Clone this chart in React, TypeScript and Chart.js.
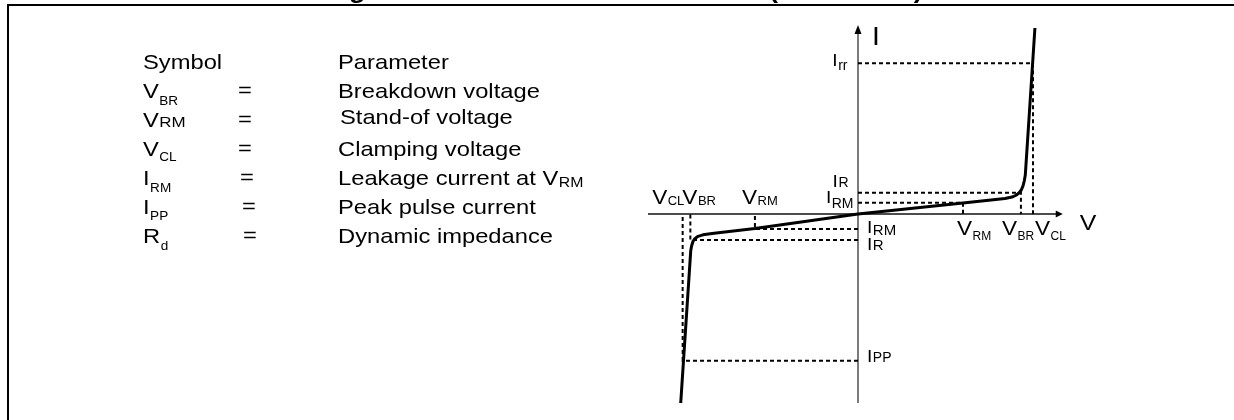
import React, { useEffect, useRef } from 'react';
import { Chart, registerables } from 'chart.js';

Chart.register(...registerables);

// ---------- text content ----------
const TITLE = 'Figure 1. Electrical characteristics (definitions)';
const TABLE_HEADER = ['Symbol', 'Parameter'];
const TABLE_SYMBOLS = ['V', 'V', 'V', 'I', 'I', 'R'];
const TABLE_SYMBOL_SUBS = ['BR', 'RM', 'CL', 'RM', 'PP', 'd'];
const TABLE_PARAMS = ['Breakdown voltage', 'Stand-of voltage', 'Clamping voltage', 'Leakage current at V', 'Peak pulse current', 'Dynamic impedance'];
const TABLE_PARAM_SUBS = ['', '', '', 'RM', '', ''];

// ---------- characteristic values (arbitrary units) ----------
const V_RM_POS = 6.0;
const V_BR_POS = 9.31;
const V_CL_POS = 10.0;
const I_RM_POS = 0.75;
const I_R_POS = 1.42;
const I_RR = 10.05;

const V_RM_NEG = -5.89;
const V_BR_NEG = -9.58;
const V_CL_NEG = -10.02;
const I_RM_NEG = -1.0;
const I_R_NEG = -1.73;
const I_PP = -9.78;

// I-V curve of the bidirectional device
const CURVE_V = [-10.13, -9.56, -9.51, -9.43, -9.31, -9.14, -8.86, -8.34, -5.89, 0, 6.0, 8.4, 8.8, 9.03, 9.2, 9.33, 9.43, 9.5, 9.56, 10.11];
const CURVE_I = [-12.6, -2.47, -2.13, -1.83, -1.63, -1.49, -1.39, -1.3, -0.97, 0, 0.73, 1.03, 1.13, 1.25, 1.4, 1.6, 1.87, 2.2, 2.6, 12.4];

// axis extents
const X_MIN = -12;
const X_MAX = 12;
const Y_MIN = -12.6;
const Y_MAX = 12.6;
const X_AXIS_END = 11.7;

const FONT = '"Liberation Sans", Arial, Helvetica, sans-serif';
const SX = 1.13; // horizontal stretch of the original artwork

function drawText(ctx: CanvasRenderingContext2D, s: string, x: number, y: number, size: number, bold = false, sx = SX): number {
  ctx.save();
  ctx.font = `${bold ? 'bold ' : ''}${size}px ${FONT}`;
  ctx.textBaseline = 'alphabetic';
  ctx.textAlign = 'left';
  const w = ctx.measureText(s).width * sx;
  ctx.translate(x, y);
  ctx.scale(sx, 1);
  ctx.fillText(s, 0, 0);
  ctx.restore();
  return w;
}

function measure(ctx: CanvasRenderingContext2D, s: string, size: number, sx = SX): number {
  ctx.save();
  ctx.font = `${size}px ${FONT}`;
  const w = ctx.measureText(s).width * sx;
  ctx.restore();
  return w;
}

function drawSym(
  ctx: CanvasRenderingContext2D,
  x: number,
  y: number,
  main: string,
  sub: string,
  mainSize: number,
  subSize: number,
  subDy: number,
  align: 'left' | 'right' = 'left',
  subSx = 1
) {
  const wm = measure(ctx, main, mainSize);
  const ws = measure(ctx, sub, subSize, subSx);
  let x0 = x;
  if (align === 'right') x0 = x - wm - ws;
  drawText(ctx, main, x0, y, mainSize);
  drawText(ctx, sub, x0 + wm + 0.5, y + subDy, subSize, false, subSx);
}

const decorPlugin = {
  id: 'decor',
  beforeDatasetsDraw(chart: any) {
    const ctx: CanvasRenderingContext2D = chart.ctx;
    const xs = chart.scales.x;
    const ys = chart.scales.y;
    const X = (v: number) => xs.getPixelForValue(v);
    const Y = (v: number) => ys.getPixelForValue(v);
    ctx.save();
    // horizontal axis
    const y0 = Y(0);
    const xTip = X(X_AXIS_END);
    ctx.strokeStyle = '#111';
    ctx.lineWidth = 1.5;
    ctx.beginPath();
    ctx.moveTo(X(X_MIN), y0);
    ctx.lineTo(xTip - 5, y0);
    ctx.stroke();
    ctx.fillStyle = '#000';
    ctx.beginPath();
    ctx.moveTo(xTip, y0);
    ctx.lineTo(xTip - 7, y0 - 3.5);
    ctx.lineTo(xTip - 7, y0 + 3.5);
    ctx.closePath();
    ctx.fill();
    // vertical axis
    const x0 = X(0);
    const yTip = Y(Y_MAX);
    ctx.strokeStyle = '#5a5a5a';
    ctx.lineWidth = 1.6;
    ctx.beginPath();
    ctx.moveTo(x0, Y(Y_MIN));
    ctx.lineTo(x0, yTip + 6);
    ctx.stroke();
    ctx.fillStyle = '#000';
    ctx.beginPath();
    ctx.moveTo(x0, yTip);
    ctx.lineTo(x0 - 3.5, yTip + 9);
    ctx.lineTo(x0 + 3.5, yTip + 9);
    ctx.closePath();
    ctx.fill();
    ctx.restore();
  },
  afterDraw(chart: any) {
    const ctx: CanvasRenderingContext2D = chart.ctx;
    const xs = chart.scales.x;
    const ys = chart.scales.y;
    const X = (v: number) => xs.getPixelForValue(v);
    const Y = (v: number) => ys.getPixelForValue(v);
    ctx.save();
    ctx.fillStyle = '#000';

    // frame
    ctx.fillRect(7, 4, 1227, 2);
    ctx.fillRect(7, 4, 2, 416);

    // title (mostly cut off at the top edge)
    drawText(ctx, TITLE, 325, -2.5, 23.8, true);

    // ---- table ----
    drawText(ctx, TABLE_HEADER[0], 143, 69, 21);
    drawText(ctx, TABLE_HEADER[1], 338, 69, 21);
    const rowY = [98, 127, 156, 185, 214, 243];
    const paramDy = [0, -3, 0, 0, 0, 0];
    const paramX = [338, 340, 338, 338, 338, 338];
    const eqX = [238, 238, 238, 240, 242, 243];
    const subSizes = [12, 15, 12, 12, 12, 12];
    const subDys = [7, 0, 5, 7, 6, 7];
    for (let i = 0; i < TABLE_SYMBOLS.length; i++) {
      const y = rowY[i];
      drawSym(ctx, 143, y, TABLE_SYMBOLS[i], TABLE_SYMBOL_SUBS[i], 21, subSizes[i], subDys[i], 'left', SX);
      drawText(ctx, '=', eqX[i], y - 1, 21);
      const w = drawText(ctx, TABLE_PARAMS[i], paramX[i], y + paramDy[i], 21);
      if (TABLE_PARAM_SUBS[i]) drawText(ctx, TABLE_PARAM_SUBS[i], paramX[i] + w + 0.5, y + 2, 14);
    }

    // ---- axis names ----
    drawText(ctx, 'I', X(0) + 14, Y(Y_MAX) + 20, 25);
    drawText(ctx, 'V', X(X_AXIS_END) + 17, Y(0) + 16, 22);

    // ---- current labels (positive side, left of axis) ----
    drawSym(ctx, X(0) - 11, Y(I_RR) + 2.5, 'I', 'rr', 17, 14, 4, 'right');
    drawSym(ctx, X(0) - 10, Y(I_R_POS) - 6, 'I', 'R', 17, 14, 0, 'right');
    drawSym(ctx, X(0) - 5, Y(I_RM_POS) + 0.5, 'I', 'RM', 17, 14, 4.5, 'right');

    // ---- current labels (negative side, right of axis) ----
    drawSym(ctx, X(0) + 9, Y(I_RM_NEG) + 4, 'I', 'RM', 17, 15, 2);
    drawSym(ctx, X(0) + 9, Y(I_R_NEG) + 10, 'I', 'R', 17, 15, 0);
    drawSym(ctx, X(0) + 9, Y(I_PP) + 1.5, 'I', 'PP', 17, 14, 0);

    // ---- voltage labels (negative side, above axis) ----
    const yn = Y(0) - 10;
    drawSym(ctx, X(V_CL_NEG) - 30.5, yn, 'V', 'CL', 20, 13, 1);
    drawSym(ctx, X(V_BR_NEG) - 8, yn, 'V', 'BR', 20, 13, 1);
    drawSym(ctx, X(V_RM_NEG) - 13, yn, 'V', 'RM', 20, 13, 1);

    // ---- voltage labels (positive side, below axis) ----
    const yp = Y(0) + 21;
    drawSym(ctx, X(V_RM_POS) - 6, yp, 'V', 'RM', 20, 12, 5);
    drawSym(ctx, X(V_BR_POS) - 19, yp, 'V', 'BR', 20, 12, 5);
    drawSym(ctx, X(V_CL_POS) + 2, yp, 'V', 'CL', 20, 12, 5);

    ctx.restore();
  },
};

function guide(points: { x: number; y: number }[]) {
  return {
    data: points,
    showLine: true,
    borderColor: '#000',
    borderWidth: 2,
    borderDash: [4, 3],
    pointRadius: 0,
    fill: false,
    tension: 0,
    clip: false as any,
  };
}

export default function App() {
  const ref = useRef<HTMLCanvasElement | null>(null);

  useEffect(() => {
    document.body.style.margin = '0';
    const canvas = ref.current;
    if (!canvas) return;
    const curve = CURVE_V.map((v, i) => ({ x: v, y: CURVE_I[i] }));
    const chart = new Chart(canvas, {
      type: 'scatter',
      data: {
        datasets: [
          guide([{ x: 0, y: I_RR }, { x: V_CL_POS, y: I_RR }, { x: V_CL_POS, y: 0 }]),
          guide([{ x: 0, y: I_R_POS }, { x: V_BR_POS, y: I_R_POS }, { x: V_BR_POS, y: 0 }]),
          guide([{ x: 0, y: I_RM_POS }, { x: V_RM_POS, y: I_RM_POS }, { x: V_RM_POS, y: 0 }]),
          guide([{ x: 0, y: I_PP }, { x: V_CL_NEG, y: I_PP }, { x: V_CL_NEG, y: 0 }]),
          guide([{ x: 0, y: I_R_NEG }, { x: V_BR_NEG, y: I_R_NEG }, { x: V_BR_NEG, y: 0 }]),
          guide([{ x: 0, y: I_RM_NEG }, { x: V_RM_NEG, y: I_RM_NEG }, { x: V_RM_NEG, y: 0 }]),
          {
            data: curve,
            showLine: true,
            borderColor: '#000',
            borderWidth: 3,
            pointRadius: 0,
            fill: false,
            tension: 0,
            borderJoinStyle: 'round',
            borderCapStyle: 'butt',
            clip: false as any,
          } as any,
        ],
      },
      options: {
        animation: false,
        responsive: false,
        devicePixelRatio: 1,
        layout: { padding: { left: 648, right: 166, top: 25, bottom: 17 } },
        plugins: { legend: { display: false }, tooltip: { enabled: false }, title: { display: false } },
        events: [],
        scales: {
          x: { type: 'linear', min: X_MIN, max: X_MAX, display: false },
          y: { type: 'linear', min: Y_MIN, max: Y_MAX, display: false },
        },
      },
      plugins: [decorPlugin],
    } as any);
    return () => chart.destroy();
  }, []);

  return (
    <div style={{ position: 'absolute', left: 0, top: 0, width: 1234, height: 420, background: '#fff' }}>
      <canvas ref={ref} width={1234} height={420} style={{ display: 'block' }} />
    </div>
  );
}
